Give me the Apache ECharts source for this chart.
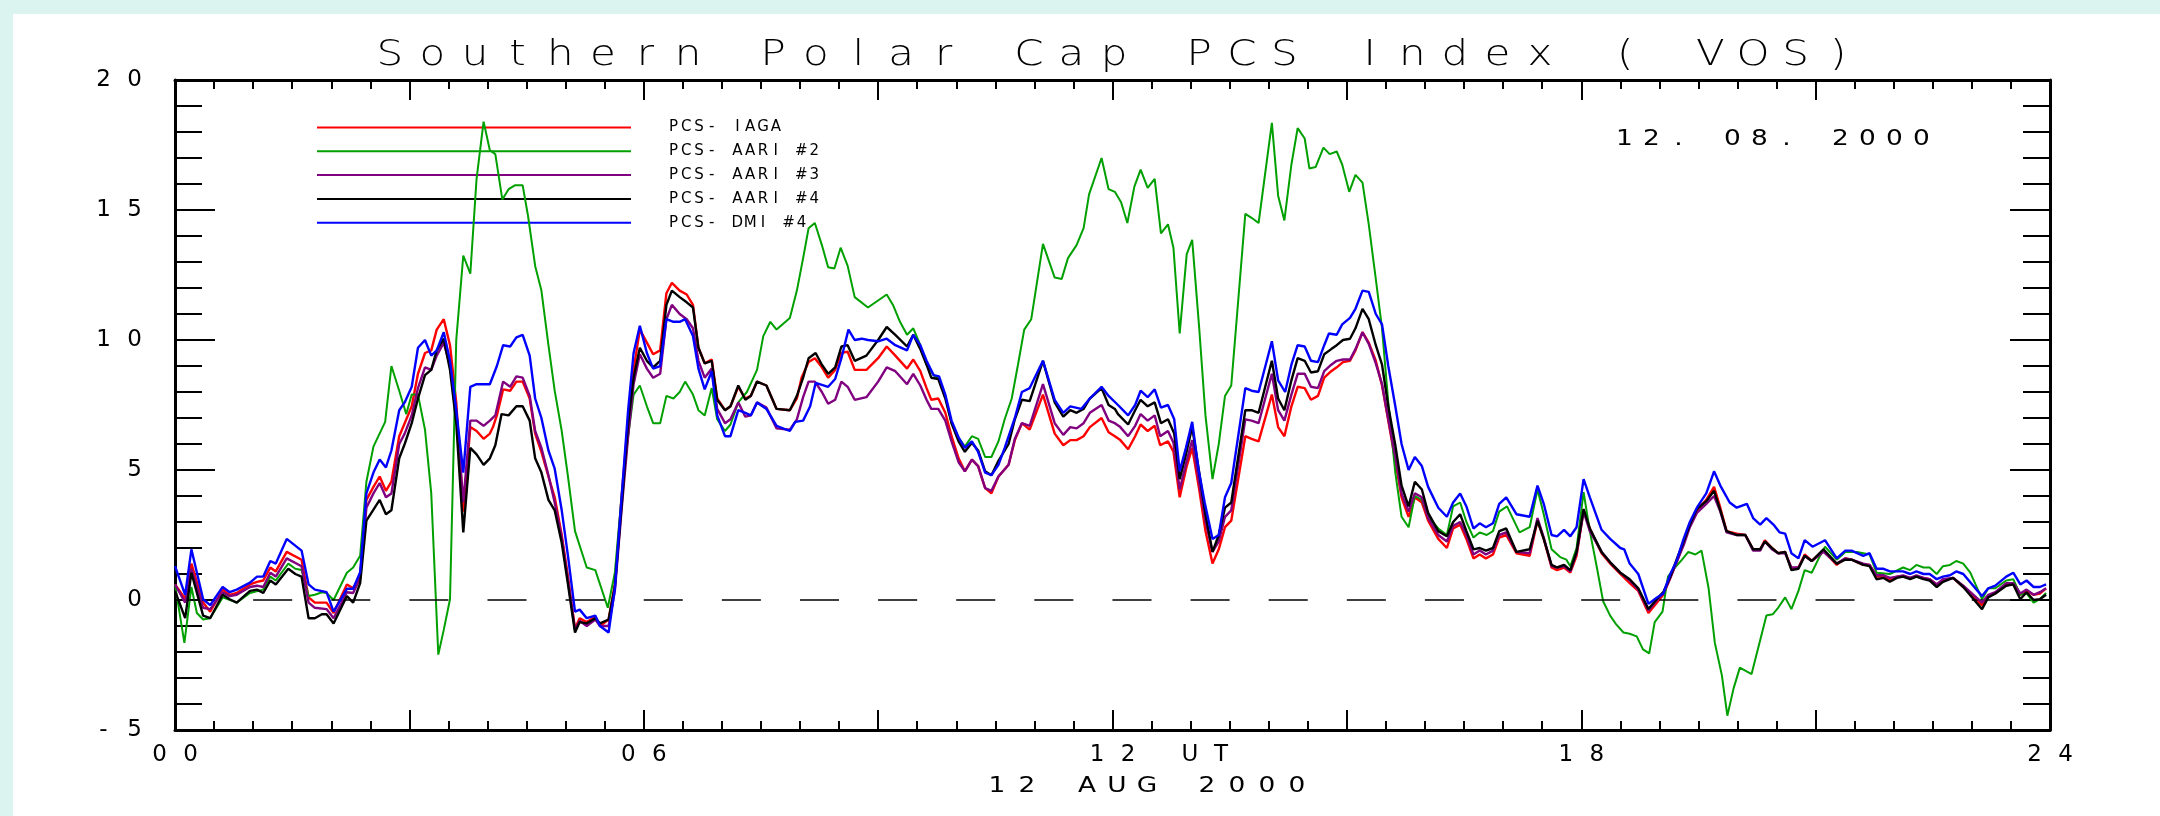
<!DOCTYPE html>
<html>
<head>
<meta charset="utf-8">
<script src="https://cdn.jsdelivr.net/npm/echarts@6/dist/echarts.min.js"></script>
<style>
html,body{margin:0;padding:0;background:#dcf4ef;}
#chart{width:2160px;height:816px;}
</style>
</head>
<body>
<div id="chart"></div>
<script>
// ---- Data: [hour UT, PCS value] ----
const titleText = 'Southern Polar Cap PCS Index ( VOS)';
const dateText = '12. 08. 2000';
const subTitleText = '12 AUG 2000';
const seriesNames = ['PCS- IAGA', 'PCS- AARI #2', 'PCS- AARI #3', 'PCS- AARI #4', 'PCS- DMI #4'];
const seriesColors = ['#ff0000', '#00a000', '#800080', '#000000', '#0000ff'];
const xTickLabels = {0: '00', 6: '06', 12: '12 UT', 18: '18', 24: '24'};

const pcsIaga = [[0,0.6],[0.13,0.05],[0.21,1.4],[0.36,-0.1],[0.45,-0.45],[0.61,0.4],[0.7,0.2],[0.79,0.27],[0.96,0.6],[1.05,0.7],[1.13,0.75],[1.22,1.25],[1.29,1.1],[1.43,1.85],[1.62,1.55],[1.71,0.1],[1.79,-0.1],[1.94,-0.1],[2.03,-0.5],[2.2,0.6],[2.28,0.45],[2.37,0.9],[2.45,3.85],[2.54,4.35],[2.62,4.75],[2.7,4.2],[2.77,4.55],[2.87,6.3],[2.94,6.8],[3.03,7.45],[3.11,8.7],[3.2,9.5],[3.28,9.6],[3.35,10.4],[3.44,10.8],[3.52,9.8],[3.6,7.6],[3.69,3.4],[3.78,6.65],[3.86,6.5],[3.95,6.2],[4.03,6.4],[4.07,6.65],[4.12,7.1],[4.2,8.1],[4.29,8.05],[4.37,8.4],[4.45,8.4],[4.54,7.75],[4.61,6.4],[4.69,5.7],[4.78,4.75],[4.86,3.95],[4.95,2.5],[5.03,0.9],[5.12,-1.1],[5.18,-0.7],[5.27,-0.85],[5.38,-0.65],[5.44,-1.0],[5.55,-0.75],[5.63,0.6],[5.72,4.1],[5.8,6.95],[5.87,8.85],[5.95,10.4],[6.04,9.9],[6.12,9.45],[6.21,9.6],[6.29,11.8],[6.36,12.2],[6.46,11.9],[6.55,11.75],[6.63,11.35],[6.7,9.7],[6.78,9.1],[6.87,9.25],[6.94,7.75],[7.04,7.3],[7.11,7.45],[7.21,8.2],[7.3,7.75],[7.37,7.85],[7.45,8.4],[7.57,8.25],[7.7,7.35],[7.87,7.3],[7.96,7.75],[8.02,8.55],[8.11,9.15],[8.19,9.3],[8.28,8.95],[8.36,8.55],[8.45,8.85],[8.53,9.5],[8.61,9.55],[8.7,8.85],[8.85,8.85],[9.0,9.3],[9.11,9.75],[9.22,9.4],[9.37,8.9],[9.45,9.25],[9.54,8.8],[9.62,8.15],[9.68,7.7],[9.77,7.75],[9.86,7.2],[9.94,6.3],[10.03,5.45],[10.11,4.95],[10.2,5.4],[10.28,5.15],[10.37,4.3],[10.45,4.1],[10.54,4.75],[10.67,5.2],[10.75,6.15],[10.84,6.8],[10.94,6.55],[11.11,7.9],[11.26,6.4],[11.37,5.95],[11.46,6.15],[11.54,6.15],[11.63,6.3],[11.71,6.65],[11.86,7.0],[11.95,6.45],[12.03,6.3],[12.1,6.15],[12.2,5.8],[12.29,6.3],[12.36,6.75],[12.45,6.5],[12.54,6.7],[12.61,5.95],[12.71,6.1],[12.78,5.7],[12.86,3.95],[12.95,5.15],[13.02,5.85],[13.11,4.25],[13.19,2.65],[13.28,1.4],[13.36,1.95],[13.44,2.8],[13.52,3.05],[13.7,6.3],[13.78,6.2],[13.87,6.1],[14.04,7.9],[14.12,6.65],[14.2,6.3],[14.29,7.45],[14.37,8.2],[14.46,8.15],[14.54,7.7],[14.63,7.85],[14.71,8.55],[14.8,8.8],[14.87,8.95],[14.95,9.15],[15.04,9.2],[15.11,9.6],[15.2,10.3],[15.28,9.9],[15.37,9.2],[15.45,8.25],[15.53,6.9],[15.62,5.35],[15.7,3.95],[15.79,3.2],[15.87,3.95],[15.96,3.75],[16.04,3.05],[16.17,2.35],[16.28,2.0],[16.36,2.75],[16.45,2.9],[16.53,2.35],[16.62,1.6],[16.7,1.75],[16.78,1.6],[16.87,1.75],[16.95,2.4],[17.04,2.5],[17.17,1.8],[17.34,1.7],[17.44,3.05],[17.52,2.35],[17.62,1.25],[17.69,1.15],[17.78,1.25],[17.86,1.05],[17.94,1.7],[18.03,3.45],[18.11,2.75],[18.26,1.8],[18.37,1.4],[18.5,1.0],[18.62,0.65],[18.73,0.35],[18.86,-0.5],[18.97,-0.1],[19.05,0.2],[19.14,0.85],[19.22,1.45],[19.31,2.2],[19.39,2.9],[19.48,3.45],[19.6,3.85],[19.7,4.35],[19.78,3.55],[19.86,2.65],[19.99,2.55],[20.1,2.5],[20.2,1.95],[20.29,1.95],[20.35,2.3],[20.44,2.0],[20.52,1.8],[20.61,1.85],[20.69,1.2],[20.78,1.25],[20.86,1.75],[20.95,1.5],[21.1,1.9],[21.27,1.35],[21.38,1.6],[21.46,1.55],[21.61,1.35],[21.69,1.35],[21.78,0.9],[21.87,0.9],[21.95,0.75],[22.04,0.9],[22.12,0.9],[22.21,0.85],[22.29,0.9],[22.38,0.85],[22.46,0.8],[22.55,0.6],[22.63,0.75],[22.76,0.85],[22.89,0.5],[23.13,-0.2],[23.21,0.15],[23.3,0.25],[23.44,0.6],[23.53,0.6],[23.62,0.2],[23.7,0.35],[23.79,0.2],[23.87,0.25],[23.95,0.45]];

const pcsAari2 = [[0,0.6],[0.12,-1.65],[0.21,0.5],[0.28,-0.5],[0.36,-0.75],[0.45,-0.7],[0.61,0.1],[0.79,-0.1],[0.96,0.27],[1.13,0.4],[1.22,0.9],[1.29,0.75],[1.45,1.4],[1.54,1.2],[1.62,1.15],[1.71,0.15],[1.79,0.2],[1.88,0.3],[1.94,0.27],[2.03,0.0],[2.2,1.05],[2.28,1.25],[2.37,1.7],[2.45,4.55],[2.54,5.9],[2.69,6.85],[2.77,9.0],[2.87,8.05],[2.96,7.15],[3.03,7.9],[3.11,7.9],[3.2,6.55],[3.28,4.1],[3.37,-2.1],[3.44,-1.15],[3.52,0.03],[3.6,10.0],[3.69,13.25],[3.78,12.55],[3.86,16.2],[3.95,18.4],[4.03,17.3],[4.1,17.15],[4.19,15.4],[4.27,15.8],[4.35,15.95],[4.45,15.95],[4.52,14.75],[4.61,12.85],[4.69,11.9],[4.78,9.8],[4.86,8.05],[4.95,6.5],[5.03,4.75],[5.12,2.65],[5.27,1.25],[5.38,1.15],[5.54,-0.3],[5.63,1.05],[5.72,4.1],[5.8,6.3],[5.87,7.9],[5.95,8.25],[6.04,7.45],[6.12,6.8],[6.21,6.8],[6.29,7.85],[6.38,7.75],[6.46,8.0],[6.53,8.4],[6.63,7.9],[6.7,7.3],[6.78,7.1],[6.87,8.15],[6.94,6.95],[7.04,6.5],[7.11,6.75],[7.21,7.6],[7.32,8.0],[7.45,8.85],[7.53,10.15],[7.62,10.7],[7.7,10.4],[7.87,10.85],[7.96,11.9],[8.04,13.15],[8.11,14.3],[8.19,14.5],[8.28,13.65],[8.36,12.8],[8.44,12.75],[8.52,13.55],[8.61,12.85],[8.7,11.65],[8.87,11.25],[9.11,11.75],[9.19,11.35],[9.28,10.7],[9.37,10.2],[9.45,10.45],[9.54,9.8],[9.62,9.05],[9.71,8.65],[9.78,8.5],[9.86,7.85],[9.94,6.8],[10.03,6.25],[10.11,5.9],[10.2,6.3],[10.28,6.2],[10.37,5.5],[10.45,5.5],[10.54,6.1],[10.62,6.95],[10.71,7.75],[10.79,9.05],[10.87,10.4],[10.96,10.8],[11.11,13.7],[11.26,12.4],[11.35,12.35],[11.43,13.15],[11.54,13.65],[11.63,14.3],[11.7,15.6],[11.86,17.0],[11.95,15.8],[12.03,15.7],[12.11,15.3],[12.19,14.5],[12.28,15.9],[12.36,16.55],[12.45,15.85],[12.54,16.2],[12.62,14.1],[12.71,14.45],[12.78,13.55],[12.86,10.25],[12.95,13.3],[13.02,13.85],[13.11,10.45],[13.19,7.1],[13.28,4.65],[13.36,6.0],[13.44,7.85],[13.52,8.25],[13.7,14.85],[13.78,14.7],[13.87,14.5],[14.04,18.35],[14.12,15.55],[14.2,14.6],[14.29,16.75],[14.37,18.15],[14.46,17.75],[14.52,16.6],[14.6,16.65],[14.7,17.4],[14.78,17.15],[14.87,17.25],[14.94,16.75],[15.03,15.7],[15.11,16.35],[15.2,16.05],[15.28,14.45],[15.37,12.35],[15.45,10.45],[15.53,7.6],[15.62,4.9],[15.7,3.2],[15.79,2.8],[15.87,4.0],[15.96,3.85],[16.04,3.2],[16.17,2.75],[16.28,2.5],[16.36,3.6],[16.45,3.75],[16.53,3.0],[16.62,2.4],[16.7,2.6],[16.79,2.5],[16.87,2.65],[16.95,3.4],[17.05,3.6],[17.21,2.6],[17.34,2.8],[17.44,4.25],[17.52,3.3],[17.62,1.95],[17.73,1.65],[17.81,1.55],[17.86,1.3],[17.94,2.0],[18.03,4.15],[18.11,2.65],[18.2,1.25],[18.28,-0.05],[18.37,-0.6],[18.45,-0.95],[18.54,-1.25],[18.62,-1.3],[18.71,-1.4],[18.79,-1.9],[18.87,-2.05],[18.94,-0.85],[19.04,-0.45],[19.11,0.9],[19.2,1.25],[19.29,1.55],[19.37,1.85],[19.46,1.75],[19.54,1.9],[19.63,0.45],[19.71,-1.65],[19.8,-2.9],[19.87,-4.45],[19.95,-3.4],[20.03,-2.6],[20.18,-2.85],[20.29,-1.55],[20.37,-0.6],[20.45,-0.55],[20.52,-0.3],[20.61,0.1],[20.69,-0.35],[20.78,0.35],[20.86,1.15],[20.95,1.05],[21.04,1.6],[21.12,2.05],[21.27,1.55],[21.38,1.85],[21.53,1.85],[21.69,1.75],[21.78,1.05],[21.95,1.0],[22.12,1.25],[22.21,1.15],[22.29,1.35],[22.38,1.25],[22.46,1.25],[22.55,1.0],[22.63,1.3],[22.72,1.35],[22.8,1.5],[22.89,1.4],[22.98,1.05],[23.13,0.03],[23.21,0.45],[23.3,0.45],[23.44,0.75],[23.53,0.8],[23.62,0.2],[23.7,0.25],[23.79,-0.1],[23.87,0.03],[23.95,0.27]];

const pcsAari3 = [[0,0.6],[0.13,-0.1],[0.21,1.2],[0.36,-0.3],[0.45,-0.35],[0.61,0.3],[0.7,0.15],[0.79,0.2],[0.96,0.5],[1.05,0.55],[1.13,0.5],[1.22,1.05],[1.29,0.9],[1.43,1.6],[1.62,1.3],[1.71,-0.1],[1.79,-0.3],[1.94,-0.35],[2.03,-0.7],[2.2,0.3],[2.28,0.27],[2.37,0.85],[2.45,3.55],[2.54,4.1],[2.62,4.5],[2.7,3.95],[2.77,4.1],[2.87,6.0],[2.94,6.4],[3.03,7.1],[3.11,8.15],[3.2,8.95],[3.28,8.85],[3.35,9.4],[3.44,9.9],[3.52,9.0],[3.6,7.3],[3.69,3.75],[3.78,6.9],[3.86,6.9],[3.95,6.7],[4.03,6.9],[4.1,7.1],[4.2,8.4],[4.29,8.2],[4.37,8.6],[4.45,8.55],[4.54,7.85],[4.61,6.5],[4.69,5.85],[4.78,4.8],[4.86,3.75],[4.95,2.4],[5.03,0.75],[5.12,-1.15],[5.18,-0.8],[5.27,-1.0],[5.38,-0.75],[5.44,-1.0],[5.55,-1.0],[5.63,0.35],[5.72,3.6],[5.8,6.3],[5.87,8.3],[5.95,9.45],[6.04,8.9],[6.12,8.55],[6.21,8.7],[6.29,10.8],[6.36,11.35],[6.46,11.0],[6.55,10.8],[6.63,10.45],[6.7,9.2],[6.78,8.55],[6.87,8.9],[6.94,7.35],[7.04,6.8],[7.11,6.95],[7.21,7.6],[7.3,7.05],[7.37,7.1],[7.45,7.6],[7.57,7.4],[7.7,6.6],[7.87,6.55],[7.96,6.95],[8.04,7.8],[8.11,8.4],[8.19,8.4],[8.28,8.0],[8.36,7.55],[8.45,7.7],[8.53,8.4],[8.61,8.2],[8.7,7.7],[8.85,7.8],[9.0,8.4],[9.11,8.95],[9.22,8.8],[9.37,8.3],[9.45,8.7],[9.54,8.25],[9.62,7.7],[9.68,7.35],[9.77,7.35],[9.86,6.9],[9.94,6.1],[10.03,5.3],[10.11,4.95],[10.2,5.4],[10.28,5.15],[10.37,4.3],[10.45,4.2],[10.54,4.75],[10.67,5.2],[10.75,6.2],[10.84,6.8],[10.94,6.7],[11.11,8.3],[11.26,6.8],[11.37,6.35],[11.46,6.65],[11.54,6.6],[11.63,6.8],[11.71,7.2],[11.86,7.5],[11.95,6.9],[12.03,6.8],[12.1,6.65],[12.2,6.3],[12.29,6.7],[12.36,7.15],[12.45,6.9],[12.54,7.1],[12.61,6.3],[12.71,6.5],[12.78,6.05],[12.86,4.25],[12.95,5.35],[13.02,6.15],[13.11,4.5],[13.19,3.05],[13.28,1.85],[13.36,2.25],[13.44,3.2],[13.52,3.45],[13.7,6.95],[13.78,6.9],[13.87,6.8],[14.04,8.7],[14.12,7.3],[14.2,6.9],[14.29,7.9],[14.37,8.7],[14.46,8.7],[14.54,8.2],[14.63,8.15],[14.71,8.8],[14.8,9.05],[14.87,9.2],[14.95,9.25],[15.04,9.25],[15.11,9.65],[15.2,10.3],[15.28,9.85],[15.37,9.1],[15.45,8.3],[15.53,6.95],[15.62,5.5],[15.7,4.1],[15.79,3.4],[15.87,4.1],[15.96,3.95],[16.04,3.15],[16.17,2.5],[16.28,2.25],[16.36,2.85],[16.45,3.0],[16.53,2.5],[16.62,1.75],[16.7,1.9],[16.78,1.75],[16.87,1.9],[16.95,2.5],[17.04,2.6],[17.17,1.85],[17.34,1.8],[17.44,3.15],[17.52,2.4],[17.62,1.3],[17.69,1.25],[17.78,1.3],[17.86,1.1],[17.94,1.8],[18.03,3.4],[18.11,2.65],[18.26,1.85],[18.37,1.45],[18.5,1.05],[18.62,0.75],[18.73,0.4],[18.86,-0.4],[18.97,0.0],[19.05,0.25],[19.14,0.85],[19.22,1.45],[19.31,2.1],[19.39,2.8],[19.48,3.35],[19.6,3.7],[19.7,4.0],[19.78,3.4],[19.86,2.6],[19.99,2.5],[20.1,2.5],[20.2,1.9],[20.29,1.9],[20.35,2.25],[20.44,1.95],[20.52,1.8],[20.61,1.8],[20.69,1.25],[20.78,1.25],[20.86,1.7],[20.95,1.5],[21.1,1.85],[21.27,1.4],[21.38,1.6],[21.46,1.55],[21.61,1.4],[21.69,1.35],[21.78,0.95],[21.87,0.95],[21.95,0.85],[22.04,0.9],[22.12,0.95],[22.21,0.85],[22.29,0.95],[22.38,0.85],[22.46,0.8],[22.55,0.6],[22.63,0.8],[22.76,0.85],[22.89,0.55],[23.13,-0.1],[23.21,0.2],[23.3,0.3],[23.44,0.65],[23.53,0.65],[23.62,0.25],[23.7,0.4],[23.79,0.2],[23.87,0.3],[23.95,0.45]];

const pcsAari4 = [[0,0.35],[0.13,-0.7],[0.21,1.05],[0.36,-0.6],[0.45,-0.7],[0.61,0.2],[0.7,0.03],[0.79,-0.1],[0.96,0.35],[1.05,0.4],[1.13,0.27],[1.22,0.75],[1.29,0.6],[1.45,1.2],[1.54,1.0],[1.62,0.9],[1.71,-0.7],[1.79,-0.7],[1.88,-0.55],[1.94,-0.55],[2.03,-0.9],[2.2,0.15],[2.28,-0.1],[2.37,0.65],[2.45,3.05],[2.62,3.85],[2.7,3.3],[2.77,3.45],[2.87,5.45],[2.94,6.0],[3.03,6.8],[3.11,7.75],[3.2,8.65],[3.28,8.85],[3.35,9.6],[3.44,10.05],[3.52,8.85],[3.6,6.8],[3.69,2.6],[3.78,5.85],[3.86,5.6],[3.95,5.2],[4.03,5.45],[4.1,5.95],[4.18,7.15],[4.27,7.1],[4.37,7.45],[4.45,7.45],[4.54,6.9],[4.61,5.45],[4.69,4.9],[4.78,3.85],[4.86,3.45],[4.95,2.2],[5.03,0.6],[5.12,-1.25],[5.18,-0.85],[5.27,-0.9],[5.38,-0.7],[5.44,-0.9],[5.55,-0.75],[5.63,0.5],[5.72,3.75],[5.8,6.8],[5.87,8.55],[5.95,9.7],[6.04,9.2],[6.12,8.95],[6.21,9.2],[6.29,11.35],[6.36,11.9],[6.46,11.65],[6.55,11.45],[6.63,11.25],[6.7,9.7],[6.78,9.1],[6.87,9.2],[6.94,7.7],[7.04,7.3],[7.11,7.45],[7.21,8.25],[7.3,7.7],[7.37,7.85],[7.45,8.4],[7.57,8.25],[7.7,7.35],[7.87,7.3],[7.96,7.85],[8.04,8.55],[8.11,9.3],[8.2,9.5],[8.28,9.05],[8.36,8.7],[8.45,8.95],[8.53,9.75],[8.61,9.8],[8.7,9.2],[8.85,9.4],[9.0,10.0],[9.11,10.5],[9.22,10.2],[9.37,9.75],[9.45,10.2],[9.54,9.65],[9.62,9.05],[9.68,8.55],[9.77,8.5],[9.86,7.75],[9.94,6.8],[10.03,6.1],[10.11,5.7],[10.2,6.05],[10.28,5.75],[10.37,4.95],[10.45,4.8],[10.54,5.35],[10.67,6.0],[10.75,6.95],[10.84,7.7],[10.94,7.65],[11.11,9.2],[11.26,7.6],[11.37,7.05],[11.46,7.3],[11.54,7.2],[11.63,7.35],[11.71,7.75],[11.86,8.15],[11.95,7.5],[12.03,7.35],[12.07,7.15],[12.2,6.75],[12.29,7.3],[12.36,7.7],[12.45,7.45],[12.54,7.6],[12.62,6.8],[12.71,6.95],[12.79,6.4],[12.86,4.65],[12.94,5.6],[13.02,6.65],[13.11,4.9],[13.19,3.3],[13.28,1.85],[13.36,2.5],[13.44,3.55],[13.52,3.75],[13.7,7.3],[13.78,7.3],[13.87,7.2],[14.04,9.2],[14.12,7.75],[14.2,7.3],[14.29,8.45],[14.37,9.3],[14.46,9.2],[14.54,8.75],[14.63,8.8],[14.71,9.45],[14.8,9.65],[14.87,9.8],[14.95,10.0],[15.04,10.05],[15.11,10.45],[15.2,11.2],[15.28,10.8],[15.37,9.8],[15.45,9.05],[15.53,7.45],[15.62,5.95],[15.7,4.4],[15.79,3.6],[15.87,4.55],[15.96,4.25],[16.04,3.35],[16.17,2.65],[16.28,2.45],[16.36,3.0],[16.45,3.3],[16.53,2.65],[16.62,1.95],[16.7,2.0],[16.78,1.9],[16.87,2.0],[16.95,2.65],[17.04,2.75],[17.17,1.85],[17.34,1.95],[17.44,3.05],[17.52,2.35],[17.62,1.35],[17.69,1.25],[17.78,1.35],[17.86,1.15],[17.94,1.85],[18.03,3.5],[18.11,2.75],[18.26,1.85],[18.37,1.45],[18.5,1.05],[18.62,0.8],[18.73,0.45],[18.86,-0.35],[18.97,0.05],[19.05,0.3],[19.14,0.9],[19.22,1.55],[19.31,2.25],[19.39,2.9],[19.48,3.5],[19.6,3.8],[19.7,4.2],[19.78,3.45],[19.86,2.65],[19.99,2.5],[20.1,2.5],[20.2,1.95],[20.29,1.95],[20.35,2.25],[20.44,2.0],[20.52,1.8],[20.61,1.85],[20.69,1.15],[20.78,1.2],[20.86,1.7],[20.95,1.5],[21.1,1.95],[21.27,1.4],[21.38,1.55],[21.46,1.55],[21.61,1.35],[21.69,1.3],[21.78,0.8],[21.87,0.85],[21.95,0.7],[22.04,0.85],[22.12,0.9],[22.21,0.8],[22.29,0.9],[22.38,0.8],[22.46,0.75],[22.55,0.5],[22.63,0.7],[22.76,0.85],[22.89,0.5],[23.13,-0.35],[23.21,0.1],[23.3,0.25],[23.44,0.55],[23.53,0.6],[23.62,0.03],[23.7,0.3],[23.79,0.0],[23.87,0.03],[23.95,0.2]];

const pcsDmi4 = [[0,1.3],[0.13,0.2],[0.21,1.95],[0.36,0.03],[0.45,-0.2],[0.61,0.5],[0.7,0.3],[0.79,0.4],[0.96,0.67],[1.05,0.9],[1.13,0.9],[1.22,1.5],[1.29,1.4],[1.43,2.35],[1.62,1.9],[1.71,0.6],[1.79,0.4],[1.94,0.3],[2.03,-0.45],[2.2,0.43],[2.28,0.43],[2.37,1.07],[2.45,4.1],[2.54,4.9],[2.62,5.4],[2.7,5.1],[2.77,5.75],[2.87,7.3],[2.94,7.6],[3.03,8.2],[3.11,9.7],[3.2,10.0],[3.28,9.4],[3.35,9.6],[3.44,10.3],[3.52,9.2],[3.6,7.3],[3.69,4.9],[3.78,8.2],[3.86,8.3],[4.03,8.3],[4.12,9.0],[4.2,9.8],[4.29,9.75],[4.37,10.1],[4.45,10.2],[4.54,9.4],[4.61,7.75],[4.69,7.0],[4.78,5.75],[4.86,5.05],[4.95,3.45],[5.03,1.7],[5.12,-0.45],[5.18,-0.37],[5.27,-0.7],[5.38,-0.6],[5.44,-1.0],[5.55,-1.25],[5.63,0.43],[5.72,4.1],[5.8,7.3],[5.87,9.5],[5.95,10.55],[6.04,9.5],[6.12,8.9],[6.21,9.0],[6.29,10.8],[6.38,10.7],[6.46,10.7],[6.53,10.8],[6.63,10.15],[6.7,8.9],[6.78,8.1],[6.87,8.8],[6.94,7.1],[7.04,6.3],[7.11,6.3],[7.21,7.3],[7.3,7.2],[7.37,7.1],[7.45,7.6],[7.57,7.35],[7.7,6.7],[7.87,6.5],[7.94,6.85],[8.04,6.9],[8.13,7.45],[8.2,8.35],[8.36,8.2],[8.45,8.5],[8.53,9.3],[8.62,10.4],[8.7,10.0],[8.79,10.05],[8.87,10.0],[9.0,9.95],[9.11,10.05],[9.22,9.8],[9.37,9.6],[9.45,10.2],[9.54,9.8],[9.62,9.2],[9.71,8.65],[9.78,8.6],[9.86,7.9],[9.94,6.9],[10.03,6.25],[10.11,5.85],[10.2,6.1],[10.28,5.7],[10.37,4.9],[10.45,4.8],[10.54,5.2],[10.62,5.85],[10.75,7.0],[10.84,8.0],[10.94,8.15],[11.11,9.2],[11.26,7.7],[11.37,7.2],[11.46,7.45],[11.6,7.35],[11.71,7.75],[11.86,8.2],[11.95,7.85],[12.07,7.5],[12.2,7.1],[12.29,7.5],[12.36,8.05],[12.45,7.8],[12.54,8.1],[12.62,7.4],[12.71,7.5],[12.79,6.95],[12.86,4.95],[12.94,5.85],[13.02,6.85],[13.1,5.05],[13.18,3.75],[13.28,2.35],[13.36,2.5],[13.44,3.95],[13.52,4.5],[13.7,8.15],[13.78,8.05],[13.87,8.0],[14.04,9.95],[14.12,8.45],[14.21,8.0],[14.29,9.05],[14.37,9.8],[14.46,9.75],[14.54,9.2],[14.63,9.15],[14.71,9.8],[14.77,10.25],[14.87,10.2],[14.94,10.6],[15.04,10.85],[15.11,11.2],[15.2,11.9],[15.28,11.85],[15.37,11.0],[15.45,10.6],[15.53,9.0],[15.62,7.45],[15.7,6.0],[15.79,5.0],[15.87,5.5],[15.96,5.15],[16.04,4.35],[16.17,3.55],[16.28,3.2],[16.36,3.75],[16.45,4.1],[16.53,3.6],[16.62,2.75],[16.7,2.95],[16.78,2.8],[16.87,2.95],[16.95,3.7],[17.04,3.95],[17.17,3.3],[17.34,3.2],[17.44,4.4],[17.52,3.7],[17.62,2.5],[17.69,2.45],[17.78,2.7],[17.86,2.45],[17.94,2.8],[18.03,4.65],[18.11,3.95],[18.26,2.7],[18.37,2.35],[18.5,2.0],[18.55,1.95],[18.62,1.4],[18.73,1.0],[18.86,-0.15],[18.97,0.1],[19.05,0.25],[19.14,1.0],[19.22,1.5],[19.31,2.35],[19.39,3.0],[19.48,3.55],[19.6,4.1],[19.7,4.95],[19.78,4.4],[19.9,3.75],[19.99,3.55],[20.12,3.7],[20.2,3.15],[20.29,2.9],[20.37,3.15],[20.46,2.9],[20.54,2.6],[20.61,2.55],[20.69,1.8],[20.78,1.6],[20.86,2.3],[20.96,2.05],[21.12,2.3],[21.27,1.6],[21.38,1.9],[21.46,1.9],[21.61,1.7],[21.69,1.8],[21.78,1.2],[21.87,1.2],[21.95,1.1],[22.12,1.1],[22.21,1.0],[22.29,1.1],[22.38,1.0],[22.46,1.0],[22.55,0.8],[22.63,0.9],[22.72,0.95],[22.8,1.1],[22.89,1.0],[23.13,0.15],[23.21,0.45],[23.3,0.55],[23.44,0.9],[23.53,1.05],[23.62,0.6],[23.7,0.75],[23.79,0.5],[23.87,0.5],[23.95,0.6]];

const seriesData = [pcsIaga, pcsAari2, pcsAari3, pcsAari4, pcsDmi4];
const seriesWidths = [2.4, 2, 2.4, 2.4, 2.4];

// ---- helpers: wide, evenly spaced lettering like the plotting package's vector font ----
const FONT = 'DejaVu Sans';
function spaced(str, key) {
  return str.split('').map(ch => '{' + key + '|' + ch + '}').join('');
}
function charStyle(width, size, weight) {
  return { width: width, align: 'center', fontSize: size, fontFamily: FONT, fontWeight: weight || 'normal', color: '#000', lineHeight: size + 4 };
}

const chart = echarts.init(document.getElementById('chart'), null, { renderer: 'canvas' });

const tickStyle = { color: '#000', width: 2 };
const axisLineStyle = { color: '#000', width: 3 };

const option = {
  animation: false,
  backgroundColor: '#dcf4ef',
  grid: { left: 175, right: 110, top: 80, bottom: 86, containLabel: false },
  legend: {
    data: seriesNames,
    orient: 'vertical',
    left: 317,
    top: 120,
    itemWidth: 314,
    itemHeight: 2,
    itemGap: 8.8,
    icon: 'rect',
    padding: 0,
    selectedMode: false,
    formatter: name => '{g| }' + spaced(name, 'l'),
    textStyle: {
      rich: { g: { width: 31, fontSize: 15, lineHeight: 16 }, l: Object.assign(charStyle(12.8, 15), { lineHeight: 16 }) }
    }
  },
  xAxis: [
    {
      type: 'value', position: 'bottom', min: 0, max: 24, interval: 3,
      axisLine: { show: true, onZero: false, lineStyle: axisLineStyle },
      axisTick: { show: true, inside: true, length: 20, lineStyle: tickStyle },
      minorTick: { show: true, splitNumber: 6, length: 9, lineStyle: tickStyle },
      splitLine: { show: false },
      axisLabel: {
        show: true, margin: 12, showMinLabel: true, showMaxLabel: true,
        formatter: v => {
          const t = xTickLabels[v];
          if (t === undefined) return '';
          return (t.length > 2 ? '{p| }' : '') + spaced(t, 'x');
        },
        rich: { x: charStyle(31, 23), p: { width: 93, fontSize: 23, lineHeight: 27 } }
      }
    },
    {
      type: 'value', position: 'top', min: 0, max: 24, interval: 3,
      axisLine: { show: true, onZero: false, lineStyle: axisLineStyle },
      axisTick: { show: true, inside: true, length: 20, lineStyle: tickStyle },
      minorTick: { show: true, splitNumber: 6, length: 9, lineStyle: tickStyle },
      splitLine: { show: false },
      axisLabel: { show: false }
    }
  ],
  yAxis: [
    {
      type: 'value', position: 'left', min: -5, max: 20, interval: 5,
      axisLine: { show: true, onZero: false, lineStyle: axisLineStyle },
      axisTick: { show: true, inside: true, length: 40, lineStyle: tickStyle },
      minorTick: { show: true, splitNumber: 5, length: 27, lineStyle: tickStyle },
      splitLine: { show: false },
      axisLabel: {
        show: true, margin: 25,
        formatter: v => spaced(String(v), 'y'),
        rich: { y: charStyle(31, 23) }
      }
    },
    {
      type: 'value', position: 'right', min: -5, max: 20, interval: 5,
      axisLine: { show: true, onZero: false, lineStyle: axisLineStyle },
      axisTick: { show: true, inside: true, length: 40, lineStyle: tickStyle },
      minorTick: { show: true, splitNumber: 5, length: 27, lineStyle: tickStyle },
      splitLine: { show: false },
      axisLabel: { show: false }
    }
  ],
  graphic: [
    { type: 'rect', z: -100, shape: { x: 13, y: 14, width: 2147, height: 802 }, style: { fill: '#ffffff' }, silent: true },
    { type: 'text', x: 1114, y: 56, scaleX: 1.2, style: { text: spaced(titleText, 't'), align: 'center', verticalAlign: 'middle', rich: { t: charStyle(42.6 / 1.2, 35, 300) } } },
    { type: 'text', x: 1773, y: 139, scaleX: 1.2, style: { text: spaced(dateText, 'd'), align: 'center', verticalAlign: 'middle', rich: { d: charStyle(27 / 1.2, 22) } } },
    { type: 'text', x: 1147, y: 786, scaleX: 1.2, style: { text: spaced(subTitleText, 's'), align: 'center', verticalAlign: 'middle', rich: { s: charStyle(30 / 1.2, 22) } } }
  ],
  series: seriesNames.map((name, i) => {
    const s = {
      name: name,
      type: 'line',
      data: seriesData[i],
      xAxisIndex: 0,
      yAxisIndex: 0,
      showSymbol: false,
      symbol: 'none',
      smooth: false,
      lineStyle: { color: seriesColors[i], width: seriesWidths[i] },
      itemStyle: { color: seriesColors[i] },
      emphasis: { disabled: true },
      z: 3 + i
    };
    if (i === 0) {
      s.markLine = {
        silent: true,
        symbol: ['none', 'none'],
        label: { show: false },
        lineStyle: { color: '#000', width: 1.5, type: [39.06, 39.06] },
        data: [{ yAxis: 0 }]
      };
    }
    return s;
  })
};

chart.setOption(option);
</script>
</body>
</html>
